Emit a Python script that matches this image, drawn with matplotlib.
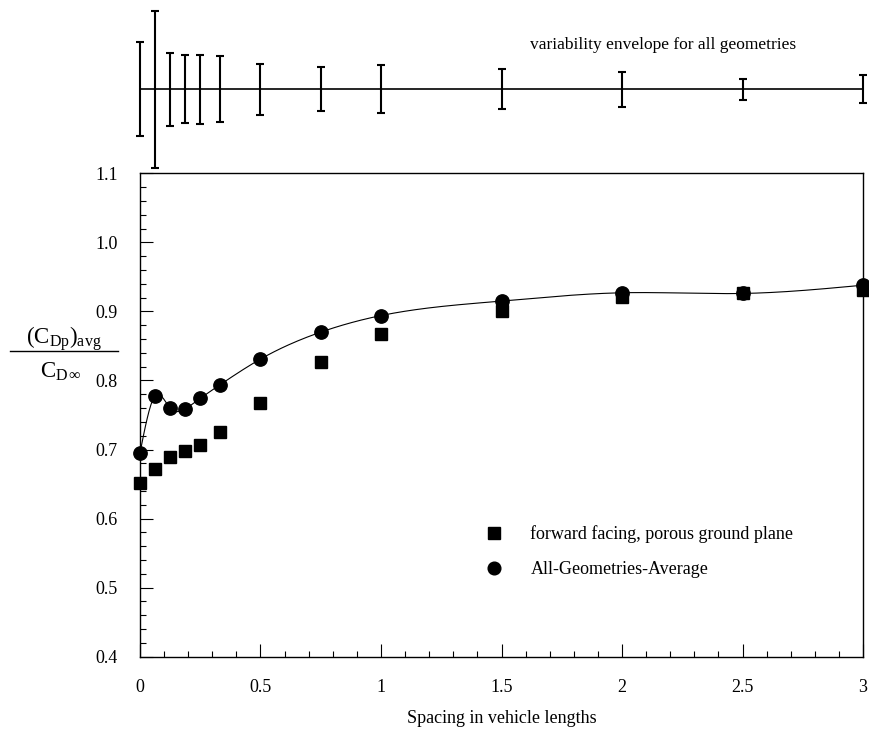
import numpy as np
import matplotlib
matplotlib.use("Agg")
import matplotlib.pyplot as plt
from matplotlib.lines import Line2D

plt.rcParams['font.family'] = ['Liberation Serif', 'DejaVu Serif']
plt.rcParams['mathtext.fontset'] = 'custom'
plt.rcParams['mathtext.rm'] = 'Liberation Serif'
plt.rcParams['mathtext.it'] = 'Liberation Serif:italic'

# spacing (vehicle lengths)
spacing = [0.0, 0.0625, 0.125, 0.1875, 0.25, 0.333, 0.5, 0.75, 1.0, 1.5, 2.0, 2.5, 3.0]
# forward facing, porous ground plane
fwd_porous = [0.651, 0.672, 0.689, 0.698, 0.706, 0.726, 0.768, 0.827, 0.868, 0.900, 0.921, 0.926, 0.931]
# all geometries average
all_avg = [0.695, 0.778, 0.760, 0.759, 0.774, 0.794, 0.831, 0.870, 0.894, 0.915, 0.927, 0.926, 0.938]
# half width of variability envelope
envelope = [0.068, 0.114, 0.053, 0.049, 0.050, 0.048, 0.037, 0.032, 0.035, 0.029, 0.025, 0.015, 0.020]

xticks = [0, 0.5, 1, 1.5, 2, 2.5, 3]
xticklabels = ['0', '0.5', '1', '1.5', '2', '2.5', '3']
yticks = [0.4, 0.5, 0.6, 0.7, 0.8, 0.9, 1.0, 1.1]


def natural_spline(x, y, n=400):
    # plain natural cubic spline, just for the smooth line through the averages
    x = np.asarray(x, float)
    y = np.asarray(y, float)
    m = len(x)
    h = np.diff(x)
    A = np.zeros((m, m))
    b = np.zeros(m)
    A[0, 0] = A[-1, -1] = 1
    for i in range(1, m - 1):
        A[i, i - 1] = h[i - 1]
        A[i, i] = 2 * (h[i - 1] + h[i])
        A[i, i + 1] = h[i]
        b[i] = 3 * ((y[i + 1] - y[i]) / h[i] - (y[i] - y[i - 1]) / h[i - 1])
    c = np.linalg.solve(A, b)
    xs = np.linspace(x[0], x[-1], n)
    k = np.clip(np.searchsorted(x, xs) - 1, 0, m - 2)
    dx = xs - x[k]
    bb = (y[k + 1] - y[k]) / h[k] - h[k] * (2 * c[k] + c[k + 1]) / 3
    dd = (c[k + 1] - c[k]) / (3 * h[k])
    return xs, y[k] + bb * dx + c[k] * dx ** 2 + dd * dx ** 3


fig = plt.figure(figsize=(8.7, 7.3), dpi=100)
ax = fig.add_axes([0.1609, 0.1004, 0.8311, 0.6622])
top = fig.add_axes([0.1609, 0.7626, 0.8311, 0.2374], sharex=ax)

# main plot
xs, ys = natural_spline(spacing, all_avg)
ax.plot(xs, ys, color='black', lw=0.8, zorder=2)
sq, = ax.plot(spacing, fwd_porous, 's', color='black', ms=9.2, zorder=3, clip_on=False,
              label='forward facing, porous ground plane')
ci, = ax.plot(spacing, all_avg, 'o', color='black', ms=9.6, zorder=4, clip_on=False,
              label='All-Geometries-Average')

ax.set_xlim(0, 3)
ax.set_ylim(0.4, 1.1)
ax.set_xticks(xticks)
ax.set_xticklabels(xticklabels)
ax.set_xticks(np.arange(0, 3.01, 0.1), minor=True)
ax.set_yticks(yticks)
ax.set_yticklabels(['%.1f' % v for v in yticks])
ax.set_yticks(np.arange(0.4, 1.101, 0.02), minor=True)
ax.tick_params(which='both', direction='in', labelsize=13, width=0.8)
ax.tick_params(which='major', length=9.5)
ax.tick_params(which='minor', length=4.5)
ax.tick_params(axis='x', pad=16)
ax.tick_params(axis='y', pad=16)
for s in ax.spines.values():
    s.set_linewidth(1.0)

ax.set_xlabel('Spacing in vehicle lengths', fontsize=13, labelpad=10)

leg = ax.legend(handles=[sq, ci], loc='upper left', bbox_to_anchor=(0.455, 0.305),
                frameon=False, fontsize=13, handlelength=1.0, handletextpad=1.5,
                labelspacing=1.0, markerscale=0.95)

# y label as a stacked fraction
fig.text(0.073, 0.536, r'$(\mathrm{C}_{\mathrm{Dp}})_{\mathrm{avg}}$', fontsize=16.5,
         ha='center', va='center')
fig.add_artist(Line2D([0.011, 0.136], [0.5196, 0.5196], color='black', lw=1.0))
fig.text(0.070, 0.490, r'$\mathrm{C}_{\mathrm{D}\,\infty}$', fontsize=16.5,
         ha='center', va='center')

# variability envelope on top
top.plot([spacing[0], spacing[-1]], [0, 0], color='black', lw=1.2)
top.errorbar(spacing, np.zeros(len(spacing)), yerr=envelope, fmt='none', ecolor='black',
             elinewidth=1.5, capsize=3.2, capthick=1.5, clip_on=False)
top.set_ylim(-0.1216, 0.1293)
top.axis('off')
top.text(2.17, 0.064, 'variability envelope for all geometries', fontsize=12.5,
         ha='center', va='center')

fig.savefig('out.png', dpi=100)
